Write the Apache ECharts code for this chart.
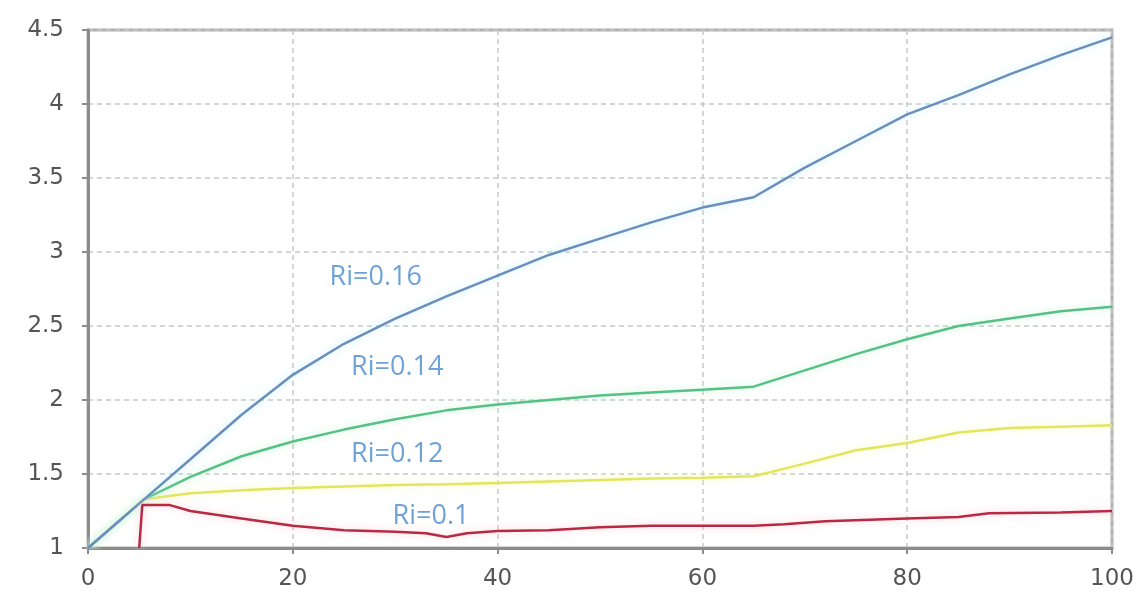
<!DOCTYPE html>
<html>
<head>
<meta charset="utf-8">
<script src="https://cdn.jsdelivr.net/npm/echarts@6/dist/echarts.min.js"></script>
<style>
  html, body { margin: 0; padding: 0; background: #fff; }
  #chart { width: 1138px; height: 595px; }
</style>
</head>
<body>
<div id="chart"></div>
<script>
// Shared x positions for the three upper curves
const xShared = [0, 5.5, 10, 15, 20, 25, 30, 35, 40, 45, 50, 55, 60, 65, 70, 75, 80, 85, 90, 95, 100];
const ri016 = [1, 1.33, 1.6, 1.9, 2.17, 2.38, 2.55, 2.7, 2.84, 2.98, 3.09, 3.2, 3.3, 3.37, 3.57, 3.75, 3.93, 4.06, 4.2, 4.33, 4.45];
const ri014 = [1, 1.33, 1.48, 1.62, 1.72, 1.8, 1.87, 1.93, 1.97, 2.0, 2.03, 2.05, 2.07, 2.09, 2.2, 2.31, 2.41, 2.5, 2.55, 2.6, 2.63];
const ri012 = [1, 1.33, 1.37, 1.39, 1.405, 1.415, 1.425, 1.43, 1.44, 1.45, 1.46, 1.47, 1.475, 1.485, 1.57, 1.66, 1.71, 1.78, 1.81, 1.82, 1.83];

// Ri=0.1 curve starts later and has its own x positions
const xRi010 = [5, 5.3, 8, 10, 15, 20, 25, 30, 33, 35, 37, 40, 45, 50, 55, 60, 65, 68, 72, 80, 85, 88, 95, 100];
const ri010 = [1, 1.29, 1.29, 1.25, 1.2, 1.15, 1.12, 1.11, 1.1, 1.075, 1.1, 1.115, 1.12, 1.14, 1.15, 1.15, 1.15, 1.16, 1.18, 1.2, 1.21, 1.235, 1.24, 1.25];

// Curve labels: text and anchor in data units
const labelTexts = ['Ri=0.16', 'Ri=0.14', 'Ri=0.12', 'Ri=0.1'];
const labelX = [28.1, 30.2, 30.2, 33.5];
const labelY = [2.83, 2.22, 1.63, 1.216];

const pairs = (xs, ys) => xs.map((x, i) => [x, ys[i]]);

function curve(name, xs, ys, color, glow) {
  return {
    name: name,
    type: 'line',
    data: pairs(xs, ys),
    symbol: 'none',
    smooth: false,
    lineStyle: { color: color, width: 2.5, shadowColor: glow, shadowBlur: 8 },
    z: 3
  };
}

const chart = echarts.init(document.getElementById('chart'), null, { renderer: 'canvas' });

chart.setOption({
  animation: false,
  backgroundColor: '#fff',
  grid: {
    left: 88, right: 26, top: 30, bottom: 47,
    show: true, borderColor: '#b0b0b0', borderWidth: 3
  },
  xAxis: {
    type: 'value', min: 0, max: 100, interval: 20,
    axisLine: { lineStyle: { color: '#8c8c8c', width: 3 } },
    axisTick: { show: true, length: 6, lineStyle: { color: '#8c8c8c', width: 2 } },
    axisLabel: { color: '#555', fontSize: 23, fontFamily: 'DejaVu Sans', margin: 20 },
    splitLine: { show: true, lineStyle: { color: '#c8c8c8', width: 1.5, type: [5, 4] } }
  },
  yAxis: {
    type: 'value', min: 1, max: 4.5, interval: 0.5,
    axisLine: { show: true, lineStyle: { color: '#8c8c8c', width: 3 } },
    axisTick: { show: true, length: 6, lineStyle: { color: '#8c8c8c', width: 2 } },
    axisLabel: { color: '#555', fontSize: 23, fontFamily: 'DejaVu Sans', margin: 24 },
    splitLine: { show: true, lineStyle: { color: '#c8c8c8', width: 1.5, type: [5, 4] } }
  },
  series: [
    curve('Ri=0.12', xShared, ri012, '#e2e65e', '#f6f8b8'),
    curve('Ri=0.14', xShared, ri014, '#55c283', '#c4f2d4'),
    curve('Ri=0.16', xShared, ri016, '#6a8fbc', '#bfefff'),
    curve('Ri=0.1', xRi010, ri010, '#b82a44', '#f8c8d0'),
    {
      type: 'scatter',
      symbolSize: 0,
      silent: true,
      z: 5,
      data: labelTexts.map((t, i) => ({ value: [labelX[i], labelY[i]], name: t })),
      label: {
        show: true, position: 'inside',
        formatter: p => p.name,
        color: '#4a8bd0', fontSize: 27, fontFamily: 'Open Sans'
      }
    }
  ]
});
</script>
</body>
</html>
